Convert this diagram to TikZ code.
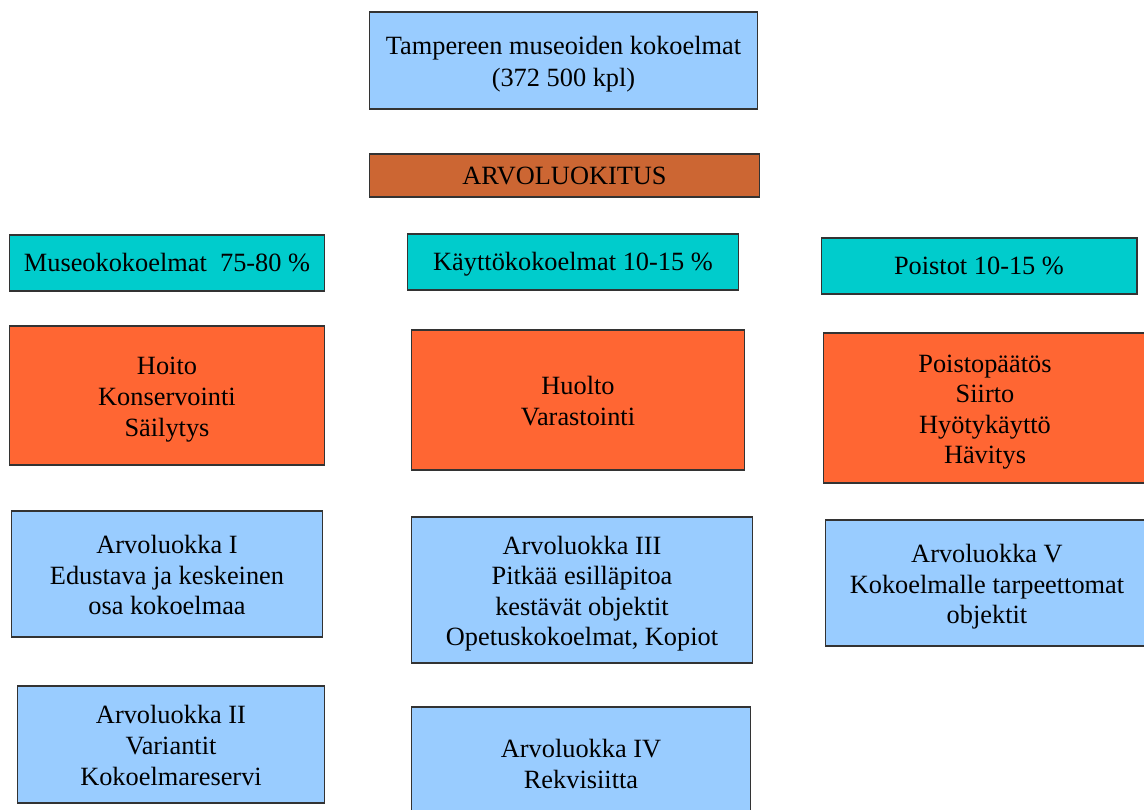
\documentclass[tikz,border=0pt]{standalone}
\usepackage{fontspec}
\setmainfont{Liberation Serif}
\usetikzlibrary{positioning}
\definecolor{kokoblue}{HTML}{99CCFF}
\definecolor{arvobrown}{HTML}{CC6633}
\definecolor{osuusteal}{HTML}{00CCCC}
\definecolor{hoitoorange}{HTML}{FF6633}
\definecolor{boxline}{HTML}{333333}
% tuet: rivin korkeus ja syvyys kuten esityksessa
\newcommand{\rivituki}{\rule[-0.216em]{0pt}{1.107em}}
\newcommand{\ylatuki}{\rule{0pt}{0.98em}}
\tikzset{
  box/.style={draw=boxline, line width=0.6pt, align=center, inner sep=0pt,
    font=\fontsize{15}{17.4}\selectfont,
    execute at begin node=\rivituki, execute at end node=\rivituki},
  bluebox/.style={box, fill=kokoblue},
  brownbox/.style={box, fill=arvobrown},
  tealbox/.style={box, fill=osuusteal},
  orangebox/.style={box, fill=hoitoorange},
}

\begin{document}
\begin{tikzpicture}[x=0.02cm, y=-0.02cm]
\path[use as bounding box, clip] (0,0) rectangle (1144,810);
\fill[white] (0,0) rectangle (1144,810);

% Kokoelmat ja arvoluokitus
\node[bluebox, font=\fontsize{15}{18}\selectfont, minimum width=7.78cm, minimum height=1.94cm] (top) at (563.5,60.5)
  {\ylatuki Tampereen museoiden kokoelmat\\(372 500 kpl)};
\node[brownbox, minimum width=7.82cm, minimum height=0.86cm] (arvo) at (564.5,175.5)
  {ARVOLUOKITUS};

% Osuudet
\node[tealbox, minimum width=6.32cm, minimum height=1.12cm] (museo) at (167,263)
  {Museokokoelmat\ \ 75-80 \%};
\node[tealbox, minimum width=6.64cm, minimum height=1.12cm] (kaytto) at (573,262)
  {Käyttökokoelmat 10-15 \%};
\node[tealbox, minimum width=6.32cm, minimum height=1.12cm] (poistot) at (979,266)
  {Poistot 10-15 \%};

% Toimenpiteet
\node[orangebox, minimum width=6.32cm, minimum height=2.78cm] (hoito) at (167,395.5)
  {\ylatuki Hoito\\Konservointi\\Säilytys};
\node[orangebox, minimum width=6.68cm, minimum height=2.80cm] (huolto) at (578,400)
  {\ylatuki Huolto\\Varastointi};
\node[orangebox, minimum width=6.48cm, minimum height=3.00cm] (poisto) at (985,408)
  {\ylatuki Poistopäätös\\Siirto\\Hyötykäyttö\\Hävitys};

% Arvoluokat
\node[bluebox, minimum width=6.24cm, minimum height=2.52cm] (lk1) at (167,574)
  {\ylatuki Arvoluokka I\\Edustava ja keskeinen\\osa kokoelmaa};
\node[bluebox, minimum width=6.84cm, minimum height=2.92cm] (lk3) at (582,590)
  {\ylatuki Arvoluokka III\\Pitkää esilläpitoa\\ kestävät objektit\\Opetuskokoelmat, Kopiot};
\node[bluebox, minimum width=6.48cm, minimum height=2.52cm] (lk5) at (987,583)
  {\ylatuki Arvoluokka V\\Kokoelmalle tarpeettomat\\objektit};
\node[bluebox, minimum width=6.16cm, minimum height=2.34cm] (lk2) at (171,744.5)
  {\ylatuki Arvoluokka II\\Variantit\\Kokoelmareservi};
\node[bluebox, minimum width=6.80cm, minimum height=2.24cm] (lk4) at (581,763)
  {\ylatuki Arvoluokka IV\\Rekvisiitta};
\end{tikzpicture}
\end{document}
